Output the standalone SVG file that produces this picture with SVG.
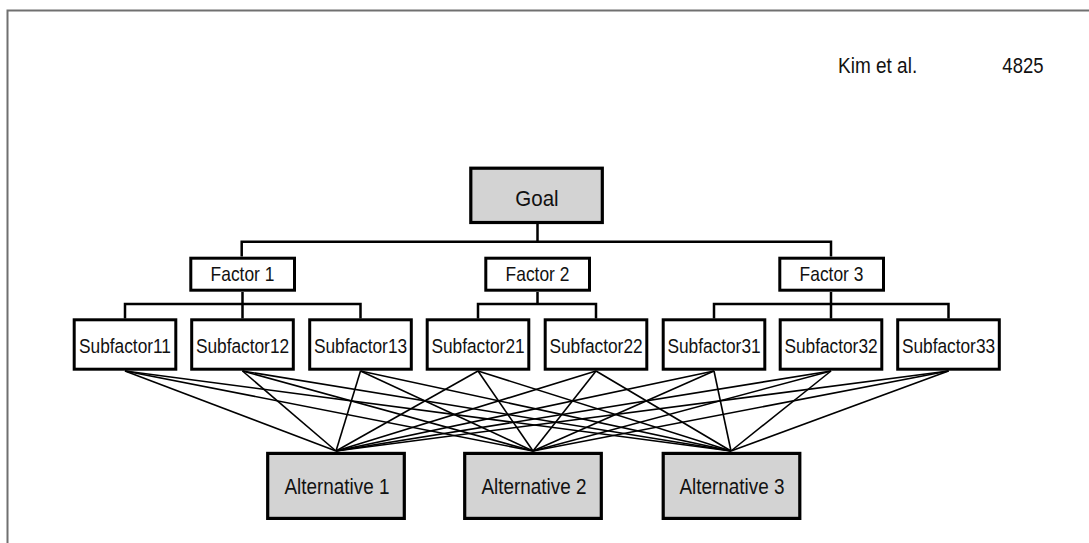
<svg xmlns="http://www.w3.org/2000/svg" width="1089" height="543" viewBox="0 0 1089 543">
<style>
.t{font-family:"Liberation Sans",Arial,sans-serif;fill:#111;text-anchor:middle}
.box{fill:#fff;stroke:#000;stroke-width:3}
.gbox{fill:#d3d3d3;stroke:#000;stroke-width:3.2}
.h{fill:none;stroke:#000;stroke-width:2.5}
.c{stroke:#000;stroke-width:1.6}
</style>
<rect x="0" y="0" width="1089" height="543" fill="#fff"/>
<g id="page-border">
<path d="M7.5 543 V10.5 H1089" fill="none" stroke="#707070" stroke-width="2"/>
</g>
<g id="header">
<text class="t" style="text-anchor:start" font-size="19" transform="translate(838 73.3) scale(1 1.15)">Kim et al.</text>
<text class="t" style="text-anchor:end" font-size="18.5" transform="translate(1043.5 73.3) scale(1 1.15)">4825</text>
</g>
<g id="connectors">
<path class="h" d="M537.5 224 V241.7 M241.7 256.5 V241.7 H831 V256.5 M242.5 292 V304 M125 318.5 V304 H360.5 V318.5 M242.5 304 V318.5 M537.5 292 V304 M478 318.5 V304 H596 V318.5 M831 292 V304 M714 318.5 V304 H948.5 V318.5 M831 304 V318.5"/>
<g class="c">
<line x1="125" y1="371" x2="336" y2="451"/><line x1="125" y1="371" x2="533" y2="451"/><line x1="125" y1="371" x2="731" y2="451"/>
<line x1="242.5" y1="371" x2="336" y2="451"/><line x1="242.5" y1="371" x2="533" y2="451"/><line x1="242.5" y1="371" x2="731" y2="451"/>
<line x1="360.5" y1="371" x2="336" y2="451"/><line x1="360.5" y1="371" x2="533" y2="451"/><line x1="360.5" y1="371" x2="731" y2="451"/>
<line x1="478" y1="371" x2="336" y2="451"/><line x1="478" y1="371" x2="533" y2="451"/><line x1="478" y1="371" x2="731" y2="451"/>
<line x1="596" y1="371" x2="336" y2="451"/><line x1="596" y1="371" x2="533" y2="451"/><line x1="596" y1="371" x2="731" y2="451"/>
<line x1="714" y1="371" x2="336" y2="451"/><line x1="714" y1="371" x2="533" y2="451"/><line x1="714" y1="371" x2="731" y2="451"/>
<line x1="831" y1="371" x2="336" y2="451"/><line x1="831" y1="371" x2="533" y2="451"/><line x1="831" y1="371" x2="731" y2="451"/>
<line x1="948.5" y1="371" x2="336" y2="451"/><line x1="948.5" y1="371" x2="533" y2="451"/><line x1="948.5" y1="371" x2="731" y2="451"/>
</g>
</g>
<g id="goal">
<rect class="gbox" x="470.8" y="168.2" width="131.5" height="54.3"/>
<text class="t" font-size="20.5" transform="translate(537 206) scale(1 1.08)">Goal</text>
</g>
<g id="factor1">
<rect class="box" x="190.8" y="258.2" width="103.7" height="32"/>
<text class="t" font-size="17.4" transform="translate(242.5 280.7) scale(1 1.12)">Factor 1</text>
</g>
<g id="factor2">
<rect class="box" x="485.8" y="258.2" width="103.7" height="32"/>
<text class="t" font-size="17.4" transform="translate(537.5 280.7) scale(1 1.12)">Factor 2</text>
</g>
<g id="factor3">
<rect class="box" x="779.8" y="258.2" width="103.7" height="32"/>
<text class="t" font-size="17.4" transform="translate(831.5 280.7) scale(1 1.12)">Factor 3</text>
</g>
<g id="subfactor11">
<rect class="box" x="74.2" y="319.8" width="101.6" height="49.4"/>
<text class="t" font-size="17.3" transform="translate(125 352.7) scale(1 1.15)">Subfactor11</text>
</g>
<g id="subfactor12">
<rect class="box" x="191.7" y="319.8" width="101.6" height="49.4"/>
<text class="t" font-size="17.3" transform="translate(242.5 352.7) scale(1 1.15)">Subfactor12</text>
</g>
<g id="subfactor13">
<rect class="box" x="309.7" y="319.8" width="101.6" height="49.4"/>
<text class="t" font-size="17.3" transform="translate(360.5 352.7) scale(1 1.15)">Subfactor13</text>
</g>
<g id="subfactor21">
<rect class="box" x="427.2" y="319.8" width="101.6" height="49.4"/>
<text class="t" font-size="17.3" transform="translate(478 352.7) scale(1 1.15)">Subfactor21</text>
</g>
<g id="subfactor22">
<rect class="box" x="545.2" y="319.8" width="101.6" height="49.4"/>
<text class="t" font-size="17.3" transform="translate(596 352.7) scale(1 1.15)">Subfactor22</text>
</g>
<g id="subfactor31">
<rect class="box" x="663.2" y="319.8" width="101.6" height="49.4"/>
<text class="t" font-size="17.3" transform="translate(714 352.7) scale(1 1.15)">Subfactor31</text>
</g>
<g id="subfactor32">
<rect class="box" x="780.2" y="319.8" width="101.6" height="49.4"/>
<text class="t" font-size="17.3" transform="translate(831 352.7) scale(1 1.15)">Subfactor32</text>
</g>
<g id="subfactor33">
<rect class="box" x="897.7" y="319.8" width="101.6" height="49.4"/>
<text class="t" font-size="17.3" transform="translate(948.5 352.7) scale(1 1.15)">Subfactor33</text>
</g>
<g id="alternative1">
<rect class="gbox" x="267.7" y="453.4" width="136.6" height="65"/>
<text class="t" font-size="18.9" transform="translate(337 494) scale(1 1.12)">Alternative 1</text>
</g>
<g id="alternative2">
<rect class="gbox" x="464.7" y="453.4" width="136.6" height="65"/>
<text class="t" font-size="18.9" transform="translate(534 494) scale(1 1.12)">Alternative 2</text>
</g>
<g id="alternative3">
<rect class="gbox" x="663.2" y="453.4" width="136.6" height="65"/>
<text class="t" font-size="18.9" transform="translate(732 494) scale(1 1.12)">Alternative 3</text>
</g>
</svg>
